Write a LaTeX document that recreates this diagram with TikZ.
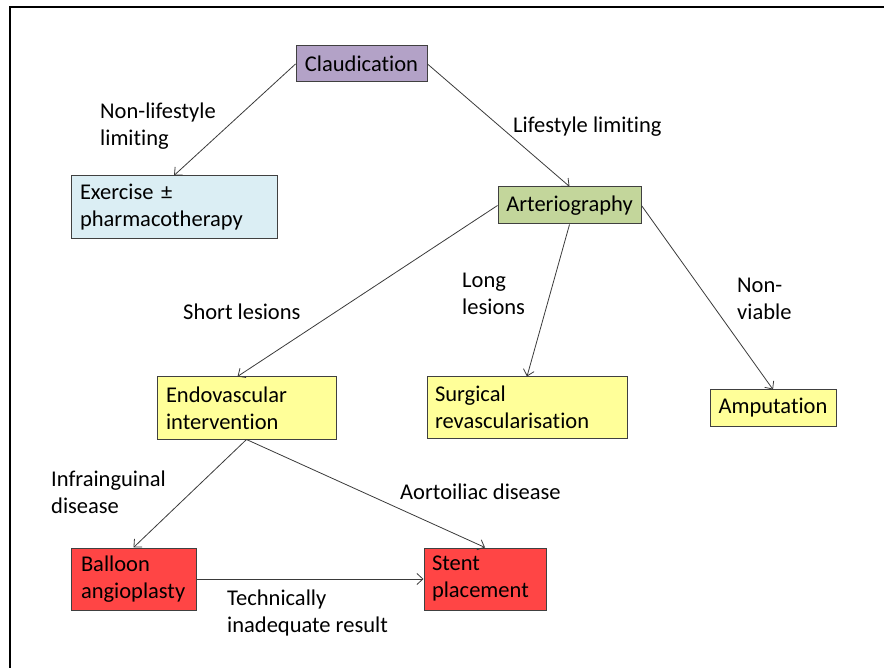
\documentclass[tikz,border=0pt]{standalone}
\usepackage{fontspec}
\setmainfont{Carlito}[Ligatures=NoCommon]
\usetikzlibrary{arrows.meta}
\definecolor{purplefill}{HTML}{B3A2C7}
\definecolor{bluefill}{HTML}{DBEEF4}
\definecolor{greenfill}{HTML}{C3D69B}
\definecolor{yellowfill}{HTML}{FFFF99}
\definecolor{redfill}{HTML}{FF4545}
\definecolor{boxline}{HTML}{404040}
\definecolor{arrowline}{HTML}{3A3A3A}
\newcommand{\lblfont}{\fontsize{22.5}{27}\selectfont}
\tikzset{
  box/.style={draw=boxline, line width=1pt, inner sep=0pt, font=\lblfont, text=black},
  lbl/.style={inner sep=0pt, anchor=base west, align=left, font=\lblfont, text=black},
  conn/.style={draw=arrowline, line width=0.8pt, -{Straight Barb[length=6pt,width=11pt,line width=0.8pt]}},
  border/.style={line width=2.5pt, black}
}
\begin{document}
\begin{tikzpicture}[x=1pt,y=-1pt]
\useasboundingbox (0,0) rectangle (884,668);
% frame (top and left only visible)
\coordinate (ftl) at (10,7);
\coordinate (ftr) at (884,7);
\coordinate (fbl) at (10,668);
\draw[border] (ftr) -- (ftl) -- (fbl);

% boxes
\node[box, fill=purplefill, minimum width=131, minimum height=36, align=center] (claud) at (361.5,64) {Claudication};
\node[box, fill=bluefill, minimum width=206, minimum height=63, text width=188, align=left] (ex) at (174,207.5) {Exercise ±\\pharmacotherapy};
\node[box, fill=greenfill, minimum width=143, minimum height=37, align=center] (art) at (569.5,205.5) {Arteriography};
\node[box, fill=yellowfill, minimum width=179, minimum height=62, text width=161, align=left] (endo) at (246.5,408) {Endovascular\\intervention};
\node[box, fill=yellowfill, minimum width=200, minimum height=61, text width=184, align=left] (surg) at (527,407.5) {Surgical\\revascularisation};
\node[box, fill=yellowfill, minimum width=126, minimum height=36, align=center] (amp) at (773,408) {Amputation};
\node[box, fill=redfill, minimum width=125, minimum height=62, text width=105, align=left] (bal) at (133.5,579) {Balloon\\angioplasty};
\node[box, fill=redfill, minimum width=122, minimum height=62, text width=106, align=left] (stent) at (485,579) {Stent\\placement};

% connectors
\draw[conn] (claud.west) -- (ex.north);
\draw[conn] (claud.east) -- (art.north);
\draw[conn] (art.west) -- ([xshift=-9pt]endo.north);
\draw[conn] (art.south) -- (surg.north);
\draw[conn] (art.east) -- (amp.north);
\draw[conn] (endo.south) -- (bal.north);
\draw[conn] (endo.south) -- (stent.north);
\draw[conn] (bal.east |- stent.west) -- (stent.west);

% labels (multi-line: anchor is the last line's baseline)
\node[lbl] (l1) at (100,146) {Non-lifestyle\\limiting};
\node[lbl] (l2) at (513,133) {Lifestyle limiting};
\node[lbl] (l3) at (183,320) {Short lesions};
\node[lbl] (l4) at (462,315) {Long\\lesions};
\node[lbl] (l5) at (737,320) {Non-\\viable};
\node[lbl] (l6) at (51,513) {Infrainguinal\\disease};
\node[lbl] (l7) at (400,499) {Aortoiliac disease};
\node[lbl] (l8) at (227,632) {Technically\\inadequate result};
\end{tikzpicture}
\end{document}
